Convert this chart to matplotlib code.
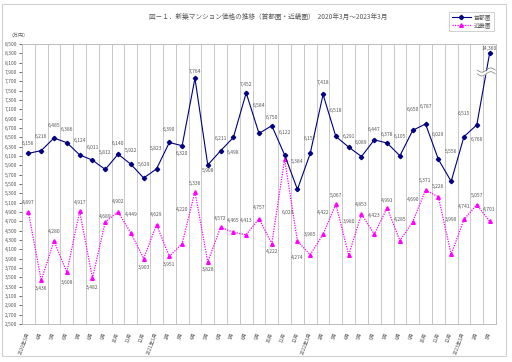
import numpy as np
import matplotlib
matplotlib.use("Agg")
import matplotlib.pyplot as plt
from matplotlib.patches import Rectangle

plt.rcParams['font.family'] = ['Noto Sans CJK JP', 'DejaVu Sans']

# data (万円)
months = ['2020年3月', '4月', '5月', '6月', '7月', '8月', '9月', '10月', '11月', '12月',
          '2021年1月', '2月', '3月', '4月', '5月', '6月', '7月', '8月', '9月', '10月', '11月', '12月',
          '2022年1月', '2月', '3月', '4月', '5月', '6月', '7月', '8月', '9月', '10月', '11月', '12月',
          '2023年1月', '2月', '3月']
tokyo = [6156, 6216, 6485, 6386, 6124, 6011, 5812, 6140, 5922, 5629, 5823, 6390, 6320,
         7764, 5908, 6211, 6498, 7452, 6584, 6750, 6122, 5384, 6157, 7418, 6518, 6291,
         6089, 6447, 6378, 6105, 6650, 6787, 6029, 5556, 6515, 6766, 14360]
kinki = [4897, 3436, 4280, 3608, 4917, 3482, 4689, 4902, 4449, 3903, 4629, 3951, 4220,
         5336, 3828, 4572, 4465, 4413, 4757, 4222, 6029, 4274, 3985, 4422, 5067, 3980,
         4853, 4423, 4991, 4285, 4690, 5371, 5226, 3990, 4741, 5057, 4701]

# axis break: values above this are drawn at it
BREAK_AT = 8300

# label offsets (px, up is positive)
dy_tokyo = [10, 14, 13, 13, 14, 13, 17, 11, 14, 13, 20, 13, -8, 7, -6, 12, -15, 8, 28, 8,
            22, 28, 15, 12, 26, 11, 14, 10, 9, 19, 21, 17, 25, 30, 23, -15, 5]
dy_kinki = [10, -8, 9, -10, 9, -9, 5, 10, 19, -9, 10, -8, 34, 8, -7, 9, 12, 14, 11, -8,
            -53, -16, 20, 22, 9, 33, 10, 19, 7, 21, 22, 10, 10, 35, 13, 9, 12]

NAVY = '#000080'
MAG = '#FF00FF'
GREY = '#595959'

fig = plt.figure(figsize=(5.12, 3.62), dpi=100)
ax = fig.add_axes([22 / 512, 1 - 324 / 362, 474 / 512, 280 / 362])

x = np.arange(len(months))
ty = np.minimum(tokyo, BREAK_AT)

ax.plot(x, ty, color=NAVY, lw=0.8, marker='D', ms=2.2, mfc=NAVY, mec=NAVY, label='首都圏', zorder=4)
ax.plot(x, kinki, color=MAG, lw=0.9, ls=(0, (1, 1)), marker='^', ms=2.6, mfc=MAG, mec=MAG,
        label='近畿圏', zorder=3)

px = 0.72
for i in range(len(months)):
    ax.annotate(f'{tokyo[i]:,}', (x[i], ty[i]), xytext=(0, dy_tokyo[i] * px),
                textcoords='offset points', ha='center', va='center', fontsize=3.6, color=GREY, zorder=6)
    dx = 3 if dy_kinki[i] < -40 else 0
    ax.annotate(f'{kinki[i]:,}', (x[i], kinki[i]), xytext=(dx * px, dy_kinki[i] * px),
                textcoords='offset points', ha='center', va='center', fontsize=3.6, color=GREY, zorder=6)

# break mark on the last segment
n = len(months) - 1
t = 0.74
cx = x[n - 1] + t * (x[n] - x[n - 1])
cy = ty[n - 1] + t * (ty[n] - ty[n - 1])
wx = np.linspace(cx - 0.7, cx + 0.7, 40)
wave = 45 * np.sin((wx - cx) / 0.7 * np.pi)
ax.fill_between(wx, cy + wave - 40, cy + wave + 40, color='white', zorder=5, lw=0)
ax.plot(wx, cy + wave - 40, color='#777777', lw=0.5, zorder=5)
ax.plot(wx, cy + wave + 40, color='#777777', lw=0.5, zorder=5)

ax.set_xlim(-0.5, len(months) - 0.5)
ax.set_ylim(2500, 8500)
ax.set_yticks(np.arange(2500, 8501, 200))
ax.set_yticklabels([f'{v:,}' for v in range(2500, 8501, 200)], fontsize=3.6, color=GREY)
ax.tick_params(axis='y', length=2, width=0.5, color='#333333', pad=1.5)
ax.set_xticks(x)
ax.set_xticklabels(months, fontsize=3.6, color=GREY, rotation=70, ha='right', va='center',
                   rotation_mode='anchor')
ax.tick_params(axis='x', length=0, pad=6)

for b in np.arange(0.5, len(months) - 1, 1):
    ax.axvline(b, color='#c8c8c8', lw=0.7, zorder=1)
for s in ax.spines.values():
    s.set_color('#bdbdbd')
    s.set_linewidth(0.7)

fig.text(0.524, 0.953, '図－１．新築マンション価格の推移（首都圏・近畿圏）  2020年3月～2023年3月',
         ha='center', va='center', fontsize=4.8, color=GREY)
fig.text(18 / 512, 1 - 35 / 362, '（万円）', ha='center', va='center', fontsize=3.6, color=GREY)

leg = fig.legend(loc='upper right', bbox_to_anchor=(0.965, 0.968), fontsize=4.2, frameon=True,
                 fancybox=False, handlelength=3.2, borderpad=0.5, labelspacing=0.4,
                 handletextpad=0.5, borderaxespad=0)
leg.get_frame().set_edgecolor('#bdbdbd')
leg.get_frame().set_linewidth(0.6)
for txt in leg.get_texts():
    txt.set_color(GREY)

fig.patches.append(Rectangle((0.004, 0.017), 0.985, 0.972, transform=fig.transFigure,
                             fill=False, edgecolor='#d0d0d0', lw=0.8))

fig.savefig('out.png', dpi=100)
